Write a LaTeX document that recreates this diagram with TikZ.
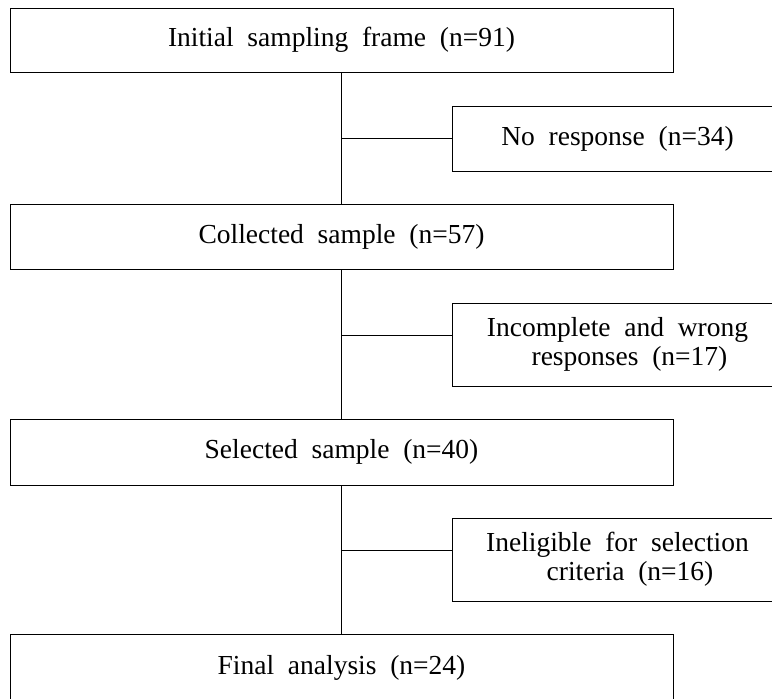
\documentclass[tikz,border=0pt]{standalone}
\usepackage{fontspec}
\setmainfont{Liberation Serif}
\usepackage{tikz}

\begin{document}
\begin{tikzpicture}[x=1pt,y=-1pt,
	mainbox/.style={draw,line width=1pt,minimum width=663pt,minimum height=64pt,inner sep=0pt,font=\fontsize{27.5}{31}\selectfont},
	sidebox/.style={draw,line width=1pt,minimum width=331pt,inner sep=0pt,align=center,font=\fontsize{27.5}{29}\selectfont},
	link/.style={line width=1pt}]
\clip (0,0) rectangle (772,699);
\path (341.5,40) node[mainbox] (initial) {Initial\ \ sampling\ \ frame\ \ (n=91)}
		(341.5,236.5) node[mainbox,minimum height=65pt] (collected) {Collected\ \ sample\ \ (n=57)}
		(341.5,452) node[mainbox,minimum height=66pt] (selected) {Selected\ \ sample\ \ (n=40)}
		(341.5,668) node[mainbox,minimum height=68pt] (final) {Final\ \ analysis\ \ (n=24)}
		(617.5,138.5) node[sidebox,minimum height=65pt] (noresp) {No\ \ response\ \ (n=34)}
		(617.5,344.5) node[sidebox,minimum height=83pt] (incomplete) {Incomplete\ \ and\ \ wrong\\ \hspace*{24pt}responses\ \ (n=17)}
		(617.5,559.5) node[sidebox,minimum height=83pt] (ineligible) {Ineligible\ \ for\ \ selection\\ \hspace*{25pt}criteria\ \ (n=16)}
		;

\draw[link] (initial) -- (collected);
\draw[link] (collected) -- (selected);
\draw[link] (selected) -- (final);
\draw[link] (initial.south |- noresp.west) -- (noresp.west);
\draw[link] (collected.south |- incomplete.west) ++(0,-9.5) -- ([yshift=9.5pt]incomplete.west);
\draw[link] (selected.south |- ineligible.west) ++(0,-9.5) -- ([yshift=9.5pt]ineligible.west);
\end{tikzpicture}
\end{document}
